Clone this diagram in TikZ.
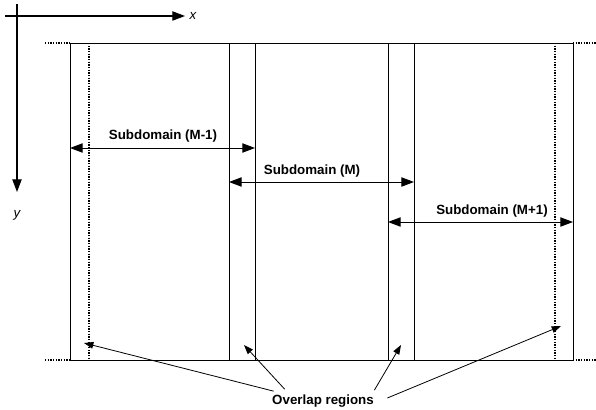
\documentclass[tikz,border=0pt]{standalone}
\usepackage{fontspec}
\setmainfont{Liberation Sans}
\usetikzlibrary{arrows.meta}

\begin{document}
\begin{tikzpicture}[x=0.75pt,y=-0.75pt,>={Triangle[length=9.5pt,width=7pt]},line join=bevel,
  wall/.style={black,line width=0.7pt},
  ghost/.style={black,line width=0.8pt,dash pattern=on 1pt off 1pt},
  small/.style={-{Triangle[length=7pt,width=5pt]}},
  lbl/.style={draw=none,font=\bfseries,inner sep=1pt}]
\useasboundingbox (0,0) rectangle (596,410);

 % axes
 \coordinate (ax_0) at (5,16);
 \coordinate (ax_x) at (185,16);
 \coordinate (ay_0) at (17,4);
 \coordinate (ay_y) at (17,192);
 \draw [black,line width=0.8pt,->] (ax_0) -- (ax_x);
 \draw [black,line width=0.8pt,->] (ay_0) -- (ay_y);
 \node (lab_x) at (193,16) [draw=none] {\itshape x};
 \node (lab_y) at (17,215) [draw=none] {\itshape y};

 % domain boundaries
 \draw [ghost] (45,43) -- (70,43);
 \draw [wall] (70,43) -- (573,43);
 \draw [ghost] (573,43) -- (596,43);
 \draw [ghost] (45,360) -- (70,360);
 \draw [wall] (70,360) -- (573,360);
 \draw [ghost] (573,360) -- (596,360);
 \foreach \xx in {70,229,255,388,414,573}
   \draw [wall] (\xx,43) -- (\xx,360);
 \foreach \xx in {89,555}
   \draw [ghost] (\xx,43) -- (\xx,360);

 % subdomains
 \node (sub_0) at (163,136) [lbl] {Subdomain (M-1)};
 \node (sub_1) at (312,171) [lbl] {Subdomain (M)};
 \node (sub_2) at (492,211) [lbl] {Subdomain (M+1)};

 \coordinate (s0_l) at (70,148);
 \coordinate (s0_r) at (255,148);
 \coordinate (s1_l) at (229,182);
 \coordinate (s1_r) at (414,182);
 \coordinate (s2_l) at (388,222);
 \coordinate (s2_r) at (573,222);
 \draw [black,line width=0.7pt,<->] (s0_l) -- (s0_r);
 \draw [black,line width=0.7pt,<->] (s1_l) -- (s1_r);
 \draw [black,line width=0.7pt,<->] (s2_l) -- (s2_r);

 % overlaps
 \node (ovl) at (323,401) [lbl] {Overlap regions};
 \coordinate (ov_0) at (84,343);
 \coordinate (ov_1) at (244,345);
 \coordinate (ov_2) at (401,345);
 \coordinate (ov_3) at (561,326);
 \draw [black,line width=0.6pt,small] ([shift={(3,-2)}]ovl.north west) -- (ov_0);
 \draw [black,line width=0.6pt,small] ([shift={(14,-4)}]ovl.north west) -- (ov_1);
 \draw [black,line width=0.6pt,small] ([shift={(-1,-3)}]ovl.north east) -- (ov_2);
 \draw [black,line width=0.6pt,small] ([shift={(12,-3)}]ovl.east) -- (ov_3);

\end{tikzpicture}
\end{document}
